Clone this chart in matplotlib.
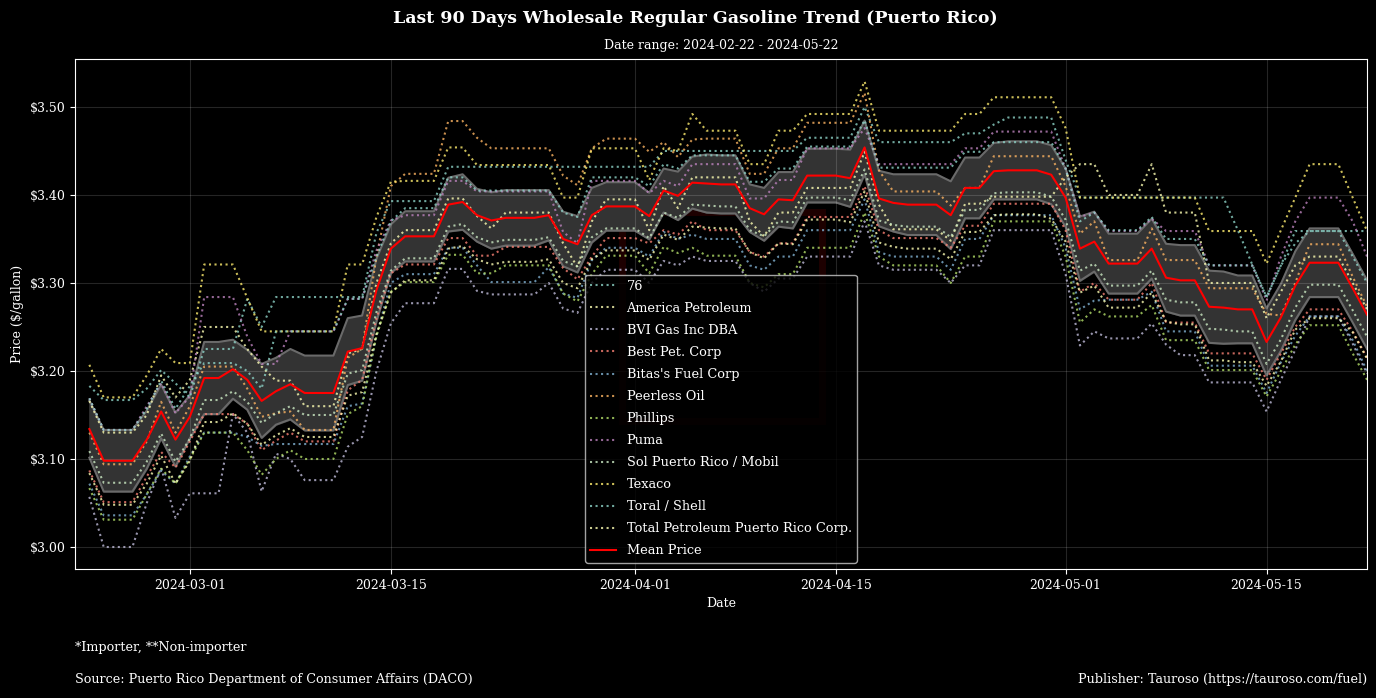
import pandas as pd
import matplotlib
matplotlib.use('Agg')
import matplotlib.pyplot as plt
import matplotlib.dates as mdates
from matplotlib.ticker import FuncFormatter
from matplotlib.patches import Rectangle

# Daily wholesale regular gasoline prices ($/gallon), 2024-02-23 .. 2024-05-22
dates = pd.date_range('2024-02-23', '2024-05-22', freq='D')

suppliers = ['76', 'America Petroleum', 'BVI Gas Inc DBA', 'Best Pet. Corp',
             "Bitas's Fuel Corp", 'Peerless Oil', 'Phillips', 'Puma',
             'Sol Puerto Rico / Mobil', 'Texaco', 'Toral / Shell',
             'Total Petroleum Puerto Rico Corp.']

price_76 = [
    3.183, 3.167, 3.167, 3.167, 3.180, 3.201, 3.186, 3.170, 3.225, 3.225,
    3.225, 3.282, 3.250, 3.284, 3.284, 3.284, 3.284, 3.284, 3.284, 3.284,
    3.357, 3.393, 3.393, 3.393, 3.393, 3.432, 3.432, 3.432, 3.432, 3.432,
    3.432, 3.432, 3.432, 3.432, 3.432, 3.432, 3.432, 3.432, 3.432, 3.432,
    3.450, 3.450, 3.450, 3.450, 3.450, 3.450, 3.450, 3.450, 3.450, 3.450,
    3.465, 3.465, 3.465, 3.465, 3.500, 3.460, 3.460, 3.460, 3.460, 3.460,
    3.460, 3.470, 3.470, 3.480, 3.488, 3.488, 3.488, 3.488, 3.440, 3.397,
    3.397, 3.397, 3.397, 3.397, 3.397, 3.397, 3.397, 3.397, 3.397, 3.397,
    3.360, 3.321, 3.284, 3.320, 3.359, 3.359, 3.359, 3.359, 3.359, 3.359]
price_america = [
    3.166, 3.130, 3.130, 3.130, 3.150, 3.195, 3.170, 3.190, 3.250, 3.250,
    3.250, 3.225, 3.205, 3.189, 3.189, 3.160, 3.160, 3.160, 3.220, 3.225,
    3.300, 3.345, 3.360, 3.360, 3.360, 3.396, 3.396, 3.376, 3.362, 3.380,
    3.380, 3.380, 3.380, 3.345, 3.318, 3.370, 3.395, 3.395, 3.395, 3.360,
    3.410, 3.385, 3.420, 3.420, 3.420, 3.420, 3.370, 3.353, 3.380, 3.380,
    3.408, 3.408, 3.408, 3.408, 3.449, 3.389, 3.361, 3.361, 3.361, 3.361,
    3.348, 3.390, 3.390, 3.398, 3.398, 3.398, 3.398, 3.398, 3.420, 3.435,
    3.435, 3.400, 3.400, 3.400, 3.435, 3.380, 3.380, 3.380, 3.300, 3.300,
    3.300, 3.300, 3.260, 3.290, 3.320, 3.330, 3.330, 3.330, 3.300, 3.270]
price_bvi = [
    3.057, 3.000, 3.000, 3.000, 3.050, 3.090, 3.033, 3.061, 3.061, 3.061,
    3.151, 3.130, 3.063, 3.106, 3.100, 3.076, 3.076, 3.076, 3.114, 3.125,
    3.200, 3.254, 3.277, 3.277, 3.277, 3.316, 3.316, 3.291, 3.287, 3.287,
    3.287, 3.287, 3.300, 3.271, 3.266, 3.300, 3.315, 3.315, 3.315, 3.300,
    3.325, 3.320, 3.330, 3.325, 3.325, 3.325, 3.300, 3.290, 3.305, 3.305,
    3.330, 3.330, 3.330, 3.330, 3.370, 3.320, 3.315, 3.315, 3.315, 3.315,
    3.300, 3.320, 3.320, 3.360, 3.360, 3.360, 3.360, 3.360, 3.310, 3.229,
    3.245, 3.237, 3.237, 3.237, 3.254, 3.230, 3.218, 3.218, 3.187, 3.187,
    3.187, 3.187, 3.154, 3.190, 3.224, 3.262, 3.262, 3.262, 3.231, 3.197]
price_best = [
    3.087, 3.051, 3.051, 3.051, 3.080, 3.108, 3.090, 3.120, 3.151, 3.151,
    3.151, 3.140, 3.110, 3.121, 3.130, 3.120, 3.120, 3.120, 3.178, 3.190,
    3.260, 3.311, 3.321, 3.321, 3.321, 3.351, 3.351, 3.331, 3.331, 3.341,
    3.341, 3.341, 3.341, 3.317, 3.304, 3.330, 3.351, 3.351, 3.351, 3.345,
    3.360, 3.355, 3.370, 3.360, 3.360, 3.360, 3.335, 3.330, 3.345, 3.345,
    3.375, 3.375, 3.375, 3.375, 3.410, 3.360, 3.351, 3.351, 3.351, 3.351,
    3.340, 3.365, 3.365, 3.390, 3.390, 3.390, 3.390, 3.390, 3.360, 3.290,
    3.300, 3.281, 3.281, 3.281, 3.300, 3.255, 3.255, 3.255, 3.220, 3.220,
    3.220, 3.220, 3.190, 3.220, 3.250, 3.270, 3.270, 3.270, 3.245, 3.215]
price_bitas = [
    3.072, 3.036, 3.036, 3.036, 3.060, 3.087, 3.072, 3.103, 3.130, 3.130,
    3.130, 3.125, 3.115, 3.117, 3.117, 3.117, 3.117, 3.117, 3.160, 3.163,
    3.240, 3.300, 3.310, 3.310, 3.310, 3.340, 3.340, 3.320, 3.301, 3.301,
    3.301, 3.301, 3.318, 3.288, 3.283, 3.326, 3.340, 3.340, 3.340, 3.330,
    3.358, 3.350, 3.355, 3.350, 3.350, 3.350, 3.320, 3.315, 3.330, 3.330,
    3.360, 3.360, 3.360, 3.360, 3.395, 3.335, 3.330, 3.330, 3.330, 3.330,
    3.315, 3.350, 3.350, 3.377, 3.377, 3.377, 3.377, 3.377, 3.340, 3.270,
    3.280, 3.281, 3.281, 3.281, 3.290, 3.245, 3.245, 3.245, 3.206, 3.206,
    3.206, 3.206, 3.175, 3.210, 3.240, 3.262, 3.262, 3.262, 3.235, 3.200]
price_peerless = [
    3.130, 3.094, 3.094, 3.094, 3.120, 3.165, 3.130, 3.160, 3.205, 3.205,
    3.205, 3.180, 3.148, 3.152, 3.154, 3.133, 3.133, 3.133, 3.215, 3.225,
    3.330, 3.410, 3.424, 3.424, 3.424, 3.484, 3.484, 3.465, 3.453, 3.453,
    3.453, 3.453, 3.453, 3.422, 3.411, 3.453, 3.464, 3.464, 3.464, 3.449,
    3.460, 3.443, 3.463, 3.464, 3.464, 3.464, 3.424, 3.424, 3.453, 3.453,
    3.482, 3.482, 3.482, 3.482, 3.516, 3.428, 3.404, 3.404, 3.404, 3.404,
    3.388, 3.408, 3.408, 3.444, 3.444, 3.444, 3.444, 3.444, 3.410, 3.356,
    3.370, 3.326, 3.326, 3.326, 3.362, 3.326, 3.326, 3.326, 3.294, 3.294,
    3.294, 3.294, 3.265, 3.263, 3.300, 3.344, 3.344, 3.344, 3.307, 3.273]
price_phillips = [
    3.067, 3.031, 3.031, 3.031, 3.060, 3.089, 3.072, 3.100, 3.130, 3.130,
    3.130, 3.110, 3.082, 3.100, 3.110, 3.100, 3.100, 3.100, 3.151, 3.160,
    3.240, 3.290, 3.301, 3.301, 3.301, 3.332, 3.332, 3.311, 3.311, 3.320,
    3.320, 3.320, 3.320, 3.288, 3.279, 3.310, 3.331, 3.331, 3.331, 3.311,
    3.341, 3.334, 3.340, 3.331, 3.331, 3.331, 3.300, 3.295, 3.310, 3.310,
    3.340, 3.340, 3.340, 3.340, 3.380, 3.330, 3.320, 3.320, 3.320, 3.320,
    3.300, 3.330, 3.330, 3.370, 3.370, 3.370, 3.370, 3.370, 3.330, 3.255,
    3.270, 3.262, 3.262, 3.262, 3.275, 3.235, 3.235, 3.235, 3.201, 3.201,
    3.201, 3.201, 3.171, 3.200, 3.230, 3.252, 3.252, 3.252, 3.220, 3.190]
price_puma = [
    3.169, 3.133, 3.133, 3.133, 3.160, 3.186, 3.152, 3.171, 3.284, 3.284,
    3.284, 3.239, 3.208, 3.208, 3.245, 3.245, 3.245, 3.245, 3.282, 3.282,
    3.337, 3.371, 3.377, 3.377, 3.377, 3.416, 3.416, 3.404, 3.404, 3.404,
    3.404, 3.404, 3.404, 3.358, 3.345, 3.416, 3.416, 3.416, 3.416, 3.402,
    3.416, 3.410, 3.435, 3.435, 3.435, 3.435, 3.396, 3.396, 3.417, 3.417,
    3.453, 3.453, 3.453, 3.453, 3.476, 3.435, 3.435, 3.435, 3.435, 3.435,
    3.435, 3.453, 3.453, 3.472, 3.472, 3.472, 3.472, 3.472, 3.430, 3.375,
    3.380, 3.359, 3.359, 3.359, 3.373, 3.359, 3.359, 3.359, 3.320, 3.320,
    3.320, 3.320, 3.280, 3.330, 3.370, 3.397, 3.397, 3.397, 3.370, 3.330]
price_sol = [
    3.109, 3.073, 3.073, 3.073, 3.097, 3.129, 3.097, 3.123, 3.167, 3.167,
    3.177, 3.165, 3.141, 3.152, 3.160, 3.150, 3.150, 3.150, 3.197, 3.201,
    3.267, 3.314, 3.328, 3.328, 3.328, 3.364, 3.367, 3.352, 3.346, 3.349,
    3.349, 3.349, 3.352, 3.325, 3.319, 3.352, 3.362, 3.362, 3.362, 3.351,
    3.380, 3.374, 3.389, 3.388, 3.387, 3.387, 3.360, 3.353, 3.370, 3.369,
    3.397, 3.397, 3.397, 3.394, 3.429, 3.371, 3.366, 3.364, 3.364, 3.364,
    3.352, 3.383, 3.383, 3.402, 3.403, 3.403, 3.403, 3.398, 3.372, 3.314,
    3.322, 3.297, 3.297, 3.297, 3.314, 3.281, 3.278, 3.278, 3.248, 3.247,
    3.245, 3.245, 3.208, 3.236, 3.272, 3.298, 3.298, 3.298, 3.269, 3.239]
price_texaco = [
    3.207, 3.170, 3.170, 3.170, 3.195, 3.225, 3.209, 3.209, 3.321, 3.321,
    3.321, 3.283, 3.245, 3.245, 3.245, 3.245, 3.245, 3.245, 3.321, 3.321,
    3.375, 3.415, 3.416, 3.416, 3.416, 3.454, 3.454, 3.434, 3.434, 3.434,
    3.434, 3.434, 3.434, 3.397, 3.397, 3.453, 3.453, 3.453, 3.453, 3.417,
    3.453, 3.450, 3.492, 3.473, 3.473, 3.473, 3.435, 3.435, 3.473, 3.473,
    3.492, 3.492, 3.492, 3.492, 3.529, 3.473, 3.473, 3.473, 3.473, 3.473,
    3.473, 3.492, 3.492, 3.511, 3.511, 3.511, 3.511, 3.511, 3.476, 3.397,
    3.397, 3.397, 3.397, 3.397, 3.397, 3.397, 3.397, 3.397, 3.359, 3.359,
    3.359, 3.359, 3.322, 3.360, 3.397, 3.435, 3.435, 3.435, 3.397, 3.359]
price_toral = [
    3.169, 3.133, 3.133, 3.133, 3.157, 3.189, 3.157, 3.183, 3.209, 3.209,
    3.209, 3.200, 3.180, 3.245, 3.245, 3.245, 3.245, 3.245, 3.282, 3.282,
    3.330, 3.370, 3.385, 3.385, 3.385, 3.420, 3.420, 3.405, 3.405, 3.405,
    3.405, 3.405, 3.405, 3.380, 3.375, 3.420, 3.420, 3.420, 3.420, 3.410,
    3.435, 3.430, 3.445, 3.445, 3.445, 3.445, 3.415, 3.415, 3.430, 3.430,
    3.455, 3.455, 3.455, 3.455, 3.485, 3.431, 3.431, 3.431, 3.431, 3.431,
    3.431, 3.449, 3.449, 3.460, 3.460, 3.460, 3.460, 3.460, 3.430, 3.370,
    3.380, 3.360, 3.360, 3.360, 3.375, 3.350, 3.350, 3.350, 3.320, 3.320,
    3.320, 3.320, 3.284, 3.320, 3.345, 3.359, 3.359, 3.359, 3.330, 3.300]
price_total = [
    3.084, 3.048, 3.048, 3.048, 3.072, 3.104, 3.072, 3.098, 3.142, 3.142,
    3.152, 3.140, 3.116, 3.127, 3.135, 3.125, 3.125, 3.125, 3.172, 3.176,
    3.242, 3.289, 3.303, 3.303, 3.303, 3.339, 3.342, 3.327, 3.321, 3.324,
    3.324, 3.324, 3.327, 3.300, 3.294, 3.327, 3.337, 3.337, 3.337, 3.326,
    3.355, 3.349, 3.364, 3.363, 3.362, 3.362, 3.335, 3.328, 3.345, 3.344,
    3.372, 3.372, 3.372, 3.369, 3.404, 3.346, 3.341, 3.339, 3.339, 3.339,
    3.327, 3.358, 3.358, 3.377, 3.378, 3.378, 3.378, 3.373, 3.347, 3.289,
    3.297, 3.272, 3.272, 3.272, 3.289, 3.256, 3.253, 3.253, 3.212, 3.212,
    3.210, 3.210, 3.183, 3.211, 3.247, 3.260, 3.260, 3.260, 3.244, 3.214]

# mean price across suppliers and its standard deviation
mean_price = [
    3.134, 3.098, 3.098, 3.098, 3.122, 3.154, 3.122, 3.148, 3.192, 3.192,
    3.202, 3.190, 3.166, 3.177, 3.185, 3.175, 3.175, 3.175, 3.222, 3.226,
    3.292, 3.339, 3.353, 3.353, 3.353, 3.389, 3.392, 3.377, 3.371, 3.374,
    3.374, 3.374, 3.377, 3.350, 3.344, 3.377, 3.387, 3.387, 3.387, 3.376,
    3.405, 3.399, 3.414, 3.413, 3.412, 3.412, 3.385, 3.378, 3.395, 3.394,
    3.422, 3.422, 3.422, 3.419, 3.454, 3.396, 3.391, 3.389, 3.389, 3.389,
    3.377, 3.408, 3.408, 3.427, 3.428, 3.428, 3.428, 3.423, 3.397, 3.339,
    3.347, 3.322, 3.322, 3.322, 3.339, 3.306, 3.303, 3.303, 3.273, 3.272,
    3.270, 3.270, 3.233, 3.261, 3.297, 3.323, 3.323, 3.323, 3.294, 3.264]
price_std = [
    0.0325, 0.035, 0.035, 0.035, 0.033, 0.0305, 0.0305, 0.0245, 0.041, 0.041,
    0.0335, 0.034, 0.042, 0.038, 0.040, 0.0425, 0.0425, 0.0425, 0.038, 0.037,
    0.0355, 0.0275, 0.0285, 0.0285, 0.0285, 0.0305, 0.0315, 0.030, 0.032, 0.0315,
    0.0315, 0.0315, 0.0285, 0.031, 0.032, 0.031, 0.0275, 0.0275, 0.0275, 0.0265,
    0.025, 0.0275, 0.0295, 0.033, 0.033, 0.033, 0.027, 0.030, 0.031, 0.032,
    0.0305, 0.0305, 0.0305, 0.0325, 0.0305, 0.0315, 0.0325, 0.0345, 0.0345, 0.0345,
    0.0385, 0.0345, 0.0345, 0.032, 0.033, 0.033, 0.033, 0.0335, 0.033, 0.0365,
    0.034, 0.034, 0.034, 0.034, 0.034, 0.0385, 0.040, 0.040, 0.041, 0.041,
    0.0385, 0.0385, 0.038, 0.038, 0.039, 0.039, 0.039, 0.039, 0.039, 0.039]


def plot_gasoline_trend():
    df = pd.DataFrame({
        '76': price_76,
        'America Petroleum': price_america,
        'BVI Gas Inc DBA': price_bvi,
        'Best Pet. Corp': price_best,
        "Bitas's Fuel Corp": price_bitas,
        'Peerless Oil': price_peerless,
        'Phillips': price_phillips,
        'Puma': price_puma,
        'Sol Puerto Rico / Mobil': price_sol,
        'Texaco': price_texaco,
        'Toral / Shell': price_toral,
        'Total Petroleum Puerto Rico Corp.': price_total,
    }, index=dates)
    mean = pd.Series(mean_price, index=dates)
    std = pd.Series(price_std, index=dates)

    plt.style.use('dark_background')
    plt.rcParams['font.family'] = 'DejaVu Serif'
    plt.rcParams['font.size'] = 9

    fig, ax = plt.subplots(figsize=(13.76, 6.98), dpi=100)
    fig.subplots_adjust(left=0.0545, right=0.9935, top=0.9155, bottom=0.1848)

    # band of one standard deviation around the mean
    ax.fill_between(dates, mean - std, mean + std, color='#333333', zorder=1)
    ax.plot(dates, mean + std, color='#6a6a6a', lw=1.5, zorder=1)
    ax.plot(dates, mean - std, color='#6a6a6a', lw=1.5, zorder=1)

    for name in suppliers:
        ax.plot(dates, df[name], linestyle=':', lw=1.5, alpha=0.8, label=name, zorder=2)

    ax.plot(dates, mean, color='red', lw=1.5, label='Mean Price', zorder=3)

    # faint logo mark behind the legend
    ax.add_patch(Rectangle((0.423, 0.29), 0.155, 0.41, transform=ax.transAxes,
                           fill=False, edgecolor='#550000', lw=5, alpha=0.35, zorder=0))

    ax.set_xlim(pd.Timestamp('2024-02-22'), pd.Timestamp('2024-05-22'))
    ax.set_ylim(2.975, 3.5545)
    ax.xaxis.set_major_locator(mdates.DayLocator(bymonthday=[1, 15]))
    ax.xaxis.set_major_formatter(mdates.DateFormatter('%Y-%m-%d'))
    ax.yaxis.set_major_formatter(FuncFormatter(lambda v, p: f'${v:.2f}'))
    ax.grid(True, color='white', alpha=0.15, lw=0.8)

    ax.set_xlabel('Date')
    ax.set_ylabel('Price ($/gallon)')
    ax.set_title('Date range: 2024-02-22 - 2024-05-22', fontsize=9, pad=7)
    fig.suptitle('Last 90 Days Wholesale Regular Gasoline Trend (Puerto Rico)',
                 x=0.505, y=0.974, va='center', fontsize=12.5, fontweight='bold')

    leg = ax.legend(loc='lower center', fontsize=9.3, labelspacing=0.7,
                    facecolor='black', edgecolor='#cccccc', framealpha=0.8)
    leg.set_zorder(5)

    fig.text(0.0545, 1 - 648 / 698, '*Importer, **Non-importer', va='center', fontsize=9.2)
    fig.text(0.0545, 1 - 679 / 698, 'Source: Puerto Rico Department of Consumer Affairs (DACO)',
             va='center', fontsize=9.2)
    fig.text(0.9935, 1 - 679 / 698, 'Publisher: Tauroso (https://tauroso.com/fuel)',
             va='center', ha='right', fontsize=9.2)

    fig.savefig('out.png', dpi=100, facecolor='black')
    plt.close(fig)


if __name__ == '__main__':
    plot_gasoline_trend()
